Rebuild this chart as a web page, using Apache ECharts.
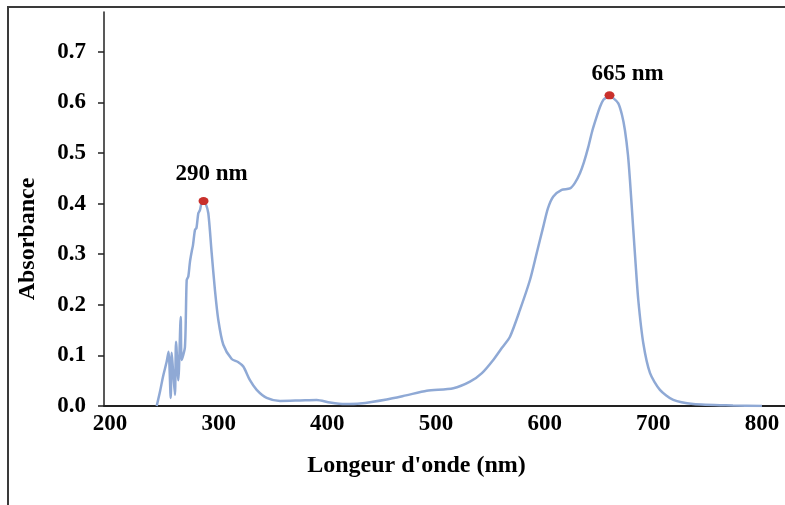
<!DOCTYPE html>
<html>
<head>
<meta charset="utf-8">
<script src="https://cdn.jsdelivr.net/npm/echarts@6/dist/echarts.min.js"></script>
<style>
    html, body {margin: 0; padding: 0; background: #fff;}
    #chart_abs {width: 785px; height: 505px;}
</style>
</head>
<body>
<div id="chart_abs"></div>
<script>
// spectre d'absorbance, valeurs
var wavelength = [243.0, 246.0, 248.8, 252.2, 253.9, 255.9, 256.8, 258.0, 259.8, 260.8,
    262.9, 265.1, 266.0, 269.0, 270.6, 272.1, 273.6, 275.2, 276.4, 278.2,
    279.6, 281.3, 282.8, 284.4, 286.1, 287.9, 290.5, 293.6, 296.6, 299.7,
    304.3, 312.0, 317.8, 322.7, 328.8, 335.0, 344.2, 356.5, 374.9, 390.2,
    402.5, 416.3, 430.1, 454.6, 472.4, 491.5, 516.0, 531.3, 542.3, 552.7,
    560.7, 568.1, 577.3, 586.5, 592.9, 598.7, 603.1, 608.0, 615.7, 623.3,
    627.9, 632.5, 636.2, 640.2, 644.0, 647.9, 650.9, 654.0, 656.9, 659.7,
    662.9, 667.8, 671.2, 673.9, 676.7, 678.5, 681.6, 683.6, 686.2, 690.8,
    697.0, 706.1, 718.4, 736.8, 773.3, 800.0];
var absorbance = [0.000, 0.028, 0.058, 0.088, 0.107, 0.016, 0.105, 0.071, 0.022, 0.127,
    0.051, 0.176, 0.091, 0.117, 0.249, 0.256, 0.285, 0.305, 0.318, 0.348,
    0.352, 0.381, 0.387, 0.403, 0.405, 0.401, 0.381, 0.302, 0.229, 0.170,
    0.121, 0.093, 0.087, 0.078, 0.051, 0.032, 0.016, 0.010, 0.011, 0.012,
    0.007, 0.004, 0.005, 0.013, 0.021, 0.030, 0.035, 0.048, 0.065, 0.091,
    0.115, 0.137, 0.190, 0.249, 0.304, 0.354, 0.391, 0.414, 0.427, 0.430,
    0.441, 0.460, 0.482, 0.512, 0.545, 0.572, 0.591, 0.605, 0.610, 0.612,
    0.609, 0.598, 0.575, 0.545, 0.496, 0.447, 0.348, 0.285, 0.209, 0.124,
    0.065, 0.032, 0.012, 0.004, 0.001, 0.000];

var peakX = [286.1, 659.7];
var peakY = [0.405, 0.614];
var peakLabels = ['290 nm', '665 nm'];

var xTicks = [200, 300, 400, 500, 600, 700, 800];
var yTicks = [0.0, 0.1, 0.2, 0.3, 0.4, 0.5, 0.6, 0.7];

var serif = "'Liberation Serif', 'Times New Roman', serif";
</script>
<script>
var myChart = echarts.init(document.getElementById('chart_abs'));

var lineData = [];
for (var i = 0; i < wavelength.length; i++) {
    lineData.push([wavelength[i], absorbance[i]]);
}
var labelOffsets = [[8, -6], [18, 0]];
var peakData = [];
for (var j = 0; j < peakX.length; j++) {
    peakData.push({
        value: [peakX[j], peakY[j]],
        name: peakLabels[j],
        label: {offset: labelOffsets[j]}
    });
}

var option = {
    animation: false,
    backgroundColor: '#fff',
    grid: {
        left: 104,
        top: 12,
        right: 0,
        bottom: 99
    },
    xAxis: {
        type: 'value',
        min: 194.5,
        max: 821.2,
        name: "Longeur d'onde (nm)",
        nameLocation: 'middle',
        nameGap: 48,
        nameTextStyle: {
            fontFamily: serif,
            fontWeight: 'bold',
            fontSize: 24,
            color: '#000',
            padding: [0, 56, 0, 0]
        },
        splitLine: {show: false},
        axisTick: {show: false},
        axisLine: {
            lineStyle: {color: '#222', width: 2}
        },
        axisLabel: {
            customValues: xTicks,
            margin: 7,
            fontFamily: serif,
            fontWeight: 'bold',
            fontSize: 23,
            color: '#000'
        }
    },
    yAxis: {
        type: 'value',
        min: 0,
        max: 0.7787,
        name: 'Absorbance',
        nameLocation: 'middle',
        nameGap: 64,
        nameTextStyle: {
            fontFamily: serif,
            fontWeight: 'bold',
            fontSize: 24,
            color: '#000',
            padding: [0, 60, 0, 0]
        },
        splitLine: {show: false},
        axisLine: {
            show: true,
            lineStyle: {color: '#222', width: 1.5}
        },
        axisTick: {
            show: true,
            customValues: yTicks,
            length: 6,
            lineStyle: {color: '#222', width: 1.5}
        },
        axisLabel: {
            customValues: yTicks,
            margin: 18,
            fontFamily: serif,
            fontWeight: 'bold',
            fontSize: 23,
            color: '#000',
            formatter: function (v) {
                return v.toFixed(1);
            }
        }
    },
    graphic: [
        {
            type: 'polyline',
            shape: {points: [[8, 505], [8, 7], [785, 7]]},
            style: {stroke: '#3a3a3a', lineWidth: 2, fill: null},
            silent: true
        }
    ],
    series: [
        {
            type: 'line',
            data: lineData,
            showSymbol: false,
            smooth: 0.25,
            lineStyle: {color: '#8fa9d5', width: 2.5}
        },
        {
            type: 'scatter',
            data: peakData,
            symbol: 'circle',
            symbolSize: [10, 8],
            itemStyle: {
                color: '#c9302c',
                opacity: 1
            },
            label: {
                show: true,
                position: 'top',
                distance: 6,
                formatter: '{b}',
                fontFamily: serif,
                fontWeight: 'bold',
                fontSize: 23,
                color: '#000',
                opacity: 1,
                textBorderWidth: 0
            },
            emphasis: {disabled: true},
            z: 5
        }
    ]
};
myChart.setOption(option);
</script>
</body>
</html>
